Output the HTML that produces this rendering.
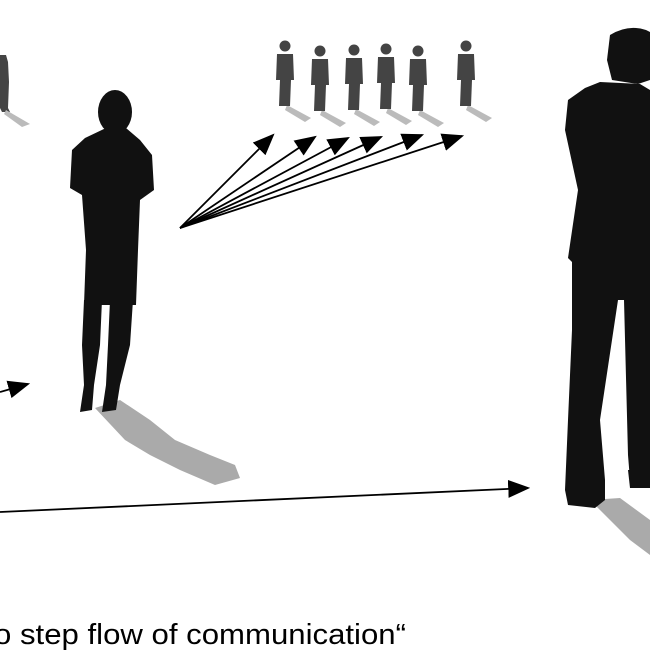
<!DOCTYPE html>
<html><head><style>html,body{margin:0;padding:0;background:#fff;width:650px;height:650px;overflow:hidden}</style></head>
<body>
<svg width="650" height="650" viewBox="0 0 650 650" xmlns="http://www.w3.org/2000/svg">
<defs>
<marker id="b" viewBox="0 0 10 10" refX="9" refY="5" markerWidth="22" markerHeight="18" markerUnits="userSpaceOnUse" orient="auto" preserveAspectRatio="none"><path d="M0,0 L10,5 L0,10 z" fill="#000"/></marker>
<g id="p">
<path d="M2,65 L26,78 L20,82 L0,70 Z" fill="#bbb"/>
<circle cx="0" cy="6" r="5.5" fill="#444"/>
<path d="M-8,14 L8,14 L9,40 L6,40 L5,66 L-1,66 L0,40 L-1,66 L-6,66 L-5,40 L-9,40 Z" fill="#444"/>
</g>
</defs>
<path d="M0,55 L6,55 L8,62 L9,82 L8,108 L10,112 L2,112 L0,108 Z" fill="#444"/>
<path d="M6,110 L30,124 L22,127 L4,114 Z" fill="#bbb"/>
<use href="#p" x="285" y="40"/>
<use href="#p" x="320" y="45"/>
<use href="#p" x="354" y="44"/>
<use href="#p" x="386" y="43"/>
<use href="#p" x="418" y="45"/>
<use href="#p" x="466" y="40"/>
<path d="M95,408 L120,400 L150,420 L175,440 L210,455 L235,465 L240,478 L215,485 L180,470 L150,455 L125,440 Z" fill="#aaa"/>
<ellipse cx="115" cy="112" rx="17" ry="22" fill="#111"/>
<path d="M106,128 L126,128 L140,140 L152,155 L154,190 L140,200 L138,250 L136,305 L84,305 L86,250 L82,195 L70,188 L72,150 L85,138 Z" fill="#111"/>
<path d="M84,300 L102,300 L100,345 L94,385 L92,410 L80,412 L84,385 L82,345 Z" fill="#111"/>
<path d="M110,300 L133,300 L130,345 L120,385 L116,410 L102,412 L106,385 L108,345 Z" fill="#111"/>
<path d="M590,500 L620,498 L650,520 L650,555 L630,540 Z" fill="#aaa"/>
<path d="M610,35 Q628,24 646,30 L650,32 L650,80 L638,84 L612,80 L607,60 Z" fill="#111"/>
<path d="M600,82 L640,84 L650,90 L650,480 L630,480 L628,455 L624,300 L618,300 L600,420 L605,480 L605,500 L595,508 L568,505 L565,490 L568,420 L572,330 L572,262 L568,258 L578,190 L565,130 L568,100 L585,88 Z" fill="#111"/>
<path d="M628,470 L650,470 L650,488 L630,488 Z" fill="#111"/>
<g stroke="#000" stroke-width="1.8" fill="none">
<line x1="180" y1="228" x2="273" y2="135" marker-end="url(#b)"/>
<line x1="180" y1="228" x2="315" y2="137" marker-end="url(#b)"/>
<line x1="180" y1="228" x2="348" y2="138" marker-end="url(#b)"/>
<line x1="180" y1="228" x2="381" y2="137" marker-end="url(#b)"/>
<line x1="180" y1="228" x2="422" y2="135" marker-end="url(#b)"/>
<line x1="180" y1="228" x2="462" y2="136" marker-end="url(#b)"/>
<line x1="0" y1="392" x2="28" y2="384" marker-end="url(#b)"/>
<line x1="0" y1="512" x2="528" y2="488" marker-end="url(#b)"/>
</g>
<text x="-6" y="644" font-family="Liberation Sans, sans-serif" font-size="29" textLength="412" lengthAdjust="spacingAndGlyphs" fill="#000">o step flow of communication“</text>
</svg>
</body></html>
